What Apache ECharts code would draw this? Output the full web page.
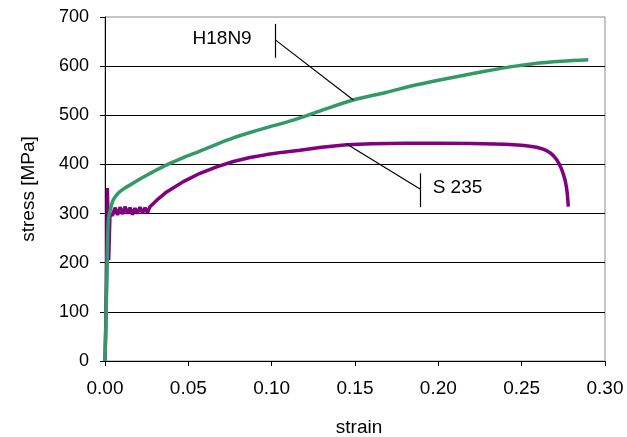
<!DOCTYPE html>
<html>
<head>
<meta charset="utf-8">
<script src="https://cdn.jsdelivr.net/npm/echarts@6/dist/echarts.min.js"></script>
<style>
  html, body { margin: 0; padding: 0; background: #fff; }
  #chart { width: 627px; height: 437px; }
</style>
</head>
<body>
<div id="chart"></div>
<script>
// Tensile test curves: stress vs. strain for two steels
const xTicks = [0, 0.05, 0.10, 0.15, 0.20, 0.25, 0.30];
const yTicks = [0, 100, 200, 300, 400, 500, 600, 700];

// Austenitic stainless steel H18N9
const h18n9Strain = [0, 0.0005, 0.001, 0.0015, 0.002, 0.003, 0.005, 0.008, 0.012, 0.017,
  0.025, 0.037, 0.047, 0.057, 0.067, 0.077, 0.087, 0.097, 0.113, 0.13,
  0.149, 0.168, 0.187, 0.207, 0.227, 0.242, 0.257, 0.274, 0.29];
const h18n9Stress = [0, 70, 150, 230, 285, 305, 328, 342, 352, 362,
  378, 399, 414, 427, 441, 454, 465, 475, 490, 510,
  531, 546, 562, 576, 589, 598, 605, 610, 613];

// Structural steel S 235 (upper yield point, serrated plateau, hardening, necking)
const s235Strain = [0, 0.0005, 0.001, 0.0014, 0.0018, 0.0022, 0.003, 0.0045, 0.006, 0.0075,
  0.009, 0.0105, 0.012, 0.0135, 0.015, 0.0165, 0.018, 0.0195, 0.021, 0.0225,
  0.024, 0.0255, 0.027, 0.028, 0.032, 0.037, 0.047, 0.057, 0.067, 0.077,
  0.087, 0.097, 0.107, 0.117, 0.13, 0.145, 0.16, 0.18, 0.20, 0.22,
  0.24, 0.25, 0.255, 0.259, 0.262, 0.265, 0.267, 0.269, 0.271, 0.2725,
  0.274, 0.275, 0.276, 0.2768, 0.2774, 0.278];
const s235Stress = [0, 80, 190, 352, 300, 205, 300, 296, 312, 297,
  313, 299, 314, 300, 312, 298, 311, 300, 313, 301,
  312, 302, 314, 315, 330, 344, 365, 382, 395, 406,
  414, 420, 425, 429, 435, 440, 442, 443, 443, 442.5,
  441, 439, 437, 435, 432, 428, 424, 418, 410, 401,
  390, 380, 369, 355, 340, 314];

// Leader lines for the curve labels (data coordinates)
const h18n9Tick = [[0.102, 686], [0.102, 617]];
const h18n9Leader = [[0.102, 654], [0.149, 531]];
const h18n9LabelAt = [0.088, 655];
const s235Tick = [[0.189, 382], [0.189, 313]];
const s235Leader = [[0.145, 441.6], [0.189, 350]];
const s235LabelAt = [0.1966, 352];

const FONT = '"Liberation Sans", Arial, sans-serif';

function pairs(xs, ys) { return xs.map((x, i) => [x, ys[i]]); }
function seg(p) { return [{ coord: p[0] }, { coord: p[1] }]; }

const leaderStyle = { color: '#000', width: 1.2, type: 'solid' };

const chart = echarts.init(document.getElementById('chart'), null, { renderer: 'canvas' });

chart.setOption({
  animation: false,
  backgroundColor: '#fff',
  grid: {
    left: 105, right: 22, top: 17, bottom: 76,
    outerBoundsMode: 'none', containLabel: false,
    show: true, borderColor: '#8c8c8c', borderWidth: 1, backgroundColor: 'transparent'
  },
  xAxis: {
    type: 'value',
    min: xTicks[0], max: xTicks[xTicks.length - 1], interval: 0.05,
    name: 'strain', nameLocation: 'middle', nameGap: 57,
    nameTextStyle: { fontFamily: FONT, fontSize: 19, color: '#000', padding: [0, 0, 0, 8] },
    axisLine: { show: true, onZero: false, lineStyle: { color: '#000', width: 1 } },
    axisTick: { show: true, inside: false, length: 5, lineStyle: { color: '#000' } },
    axisLabel: {
      fontFamily: FONT, fontSize: 19, color: '#000', margin: 18,
      formatter: v => v.toFixed(2)
    },
    splitLine: { show: false }
  },
  yAxis: {
    type: 'value',
    min: yTicks[0], max: yTicks[yTicks.length - 1], interval: 100,
    name: 'stress [MPa]', nameLocation: 'middle', nameGap: 67, nameRotate: 90,
    nameTextStyle: { fontFamily: FONT, fontSize: 19, color: '#000' },
    axisLine: { show: true, onZero: false, lineStyle: { color: '#000', width: 1 } },
    axisTick: { show: true, inside: false, length: 5, lineStyle: { color: '#000' } },
    axisLabel: { fontFamily: FONT, fontSize: 18, color: '#000', margin: 16 },
    splitLine: { show: true, showMinLine: false, showMaxLine: false, lineStyle: { color: '#000', width: 1 } }
  },
  series: [
    {
      name: 'H18N9',
      type: 'line',
      data: pairs(h18n9Strain, h18n9Stress),
      showSymbol: false,
      smooth: 0.3,
      lineStyle: { color: '#339966', width: 3.5 },
      itemStyle: { color: '#339966' },
      z: 3,
      markLine: {
        silent: true, symbol: 'none', animation: false,
        label: { show: false },
        lineStyle: leaderStyle,
        data: [seg(h18n9Tick), seg(h18n9Leader)]
      },
      markPoint: {
        silent: true, symbol: 'circle', symbolSize: 0,
        data: [{ coord: h18n9LabelAt }],
        label: {
          show: true, position: 'left', distance: 0, formatter: 'H18N9',
          fontFamily: FONT, fontSize: 19, color: '#000'
        }
      }
    },
    {
      name: 'S 235',
      type: 'line',
      data: pairs(s235Strain, s235Stress),
      showSymbol: false,
      lineStyle: { color: '#800080', width: 3.5 },
      itemStyle: { color: '#800080' },
      z: 2,
      markLine: {
        silent: true, symbol: 'none', animation: false,
        label: { show: false },
        lineStyle: leaderStyle,
        data: [seg(s235Tick), seg(s235Leader)]
      },
      markPoint: {
        silent: true, symbol: 'circle', symbolSize: 0,
        data: [{ coord: s235LabelAt }],
        label: {
          show: true, position: 'right', distance: 0, formatter: 'S 235',
          fontFamily: FONT, fontSize: 19, color: '#000'
        }
      }
    }
  ]
});
</script>
</body>
</html>
